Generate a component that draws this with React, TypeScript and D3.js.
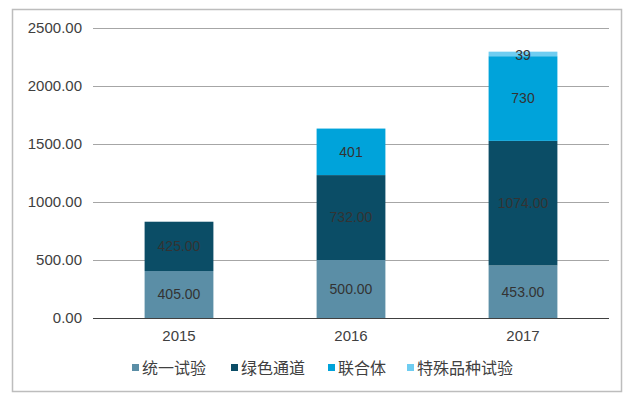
import React from "react";
import * as d3 from "d3";

const years = ["2015", "2016", "2017"];
const seriesNames = ["统一试验", "绿色通道", "联合体", "特殊品种试验"];
const unified = [405, 500, 453];
const greenChannel = [425, 732, 1074];
const consortium = [0, 401, 730];
const special = [0, 0, 39];
const labelTexts = [
  ["405.00", "500.00", "453.00"],
  ["425.00", "732.00", "1074.00"],
  ["", "401", "730"],
  ["", "", "39"],
];
const yTicks = [0, 500, 1000, 1500, 2000, 2500];
const colors = ["#5b8ea6", "#0b4d66", "#00a3da", "#6fcdf1"];

export default function App() {
  const W = 631, H = 400;
  const left = 93, right = 609, top = 28, bottom = 318;
  const x = d3.scaleBand().domain(years).range([left, right]).paddingInner(0.6).paddingOuter(0.3);
  const y = d3.scaleLinear().domain([0, 2500]).range([bottom, top]);
  const rows = years.map((yr, i) => ({
    year: yr,
    统一试验: unified[i],
    绿色通道: greenChannel[i],
    联合体: consortium[i],
    特殊品种试验: special[i],
  }));
  const stacked = d3.stack<any>().keys(seriesNames)(rows);
  const numFont = "'Liberation Sans', Arial, sans-serif";
  const cjkFont = "'Noto Sans CJK SC', sans-serif";
  const legendX = [132, 231, 328, 407];
  return (
    <svg width={W} height={H} style={{ position: "absolute", left: 0, top: 0 }}>
      <rect x={0} y={0} width={W} height={H} fill="#fff" />
      <rect x={12.5} y={9.5} width={609} height={382} fill="none" stroke="#bdbdbd" strokeWidth={1.5} />
      {yTicks.map((t) => (
        <g key={t}>
          {t > 0 && (
            <line x1={left} x2={right} y1={Math.round(y(t)) + 0.5} y2={Math.round(y(t)) + 0.5} stroke="#a6a6a6" strokeWidth={1} />
          )}
          <text x={82} y={y(t)} dy="0.35em" textAnchor="end" fontFamily={numFont} fontSize={15} fill="#404040">
            {t.toFixed(2)}
          </text>
        </g>
      ))}
      {stacked.map((s, si) => (
        <g key={s.key}>
          {s.map((d, i) =>
            d[1] - d[0] > 0 ? (
              <rect key={i} x={x(years[i])} width={x.bandwidth()} y={y(d[1])} height={y(d[0]) - y(d[1])} fill={colors[si]} />
            ) : null
          )}
        </g>
      ))}
      {stacked.map((s, si) => (
        <g key={"l" + s.key}>
          {s.map((d, i) =>
            labelTexts[si][i] ? (
              <text key={i} x={(x(years[i]) as number) + x.bandwidth() / 2} y={si === 3 ? y(d[1]) + 3 : y((d[0] + d[1]) / 2)} dy="0.35em" textAnchor="middle" fontFamily={numFont} fontSize={14} fill="#333333">
                {labelTexts[si][i]}
              </text>
            ) : null
          )}
        </g>
      ))}
      <line x1={left} x2={right} y1={bottom + 0.5} y2={bottom + 0.5} stroke="#404040" strokeWidth={1} />
      {years.map((yr) => (
        <text key={yr} x={(x(yr) as number) + x.bandwidth() / 2} y={336} dy="0.35em" textAnchor="middle" fontFamily={numFont} fontSize={15} fill="#404040">
          {yr}
        </text>
      ))}
      {seriesNames.map((n, i) => (
        <g key={n}>
          <rect x={legendX[i]} y={364} width={7} height={7} fill={colors[i]} />
          <text x={legendX[i] + 10} y={368} dy="0.35em" fontFamily={cjkFont} fontSize={16} fill="#404040">
            {n}
          </text>
        </g>
      ))}
    </svg>
  );
}
